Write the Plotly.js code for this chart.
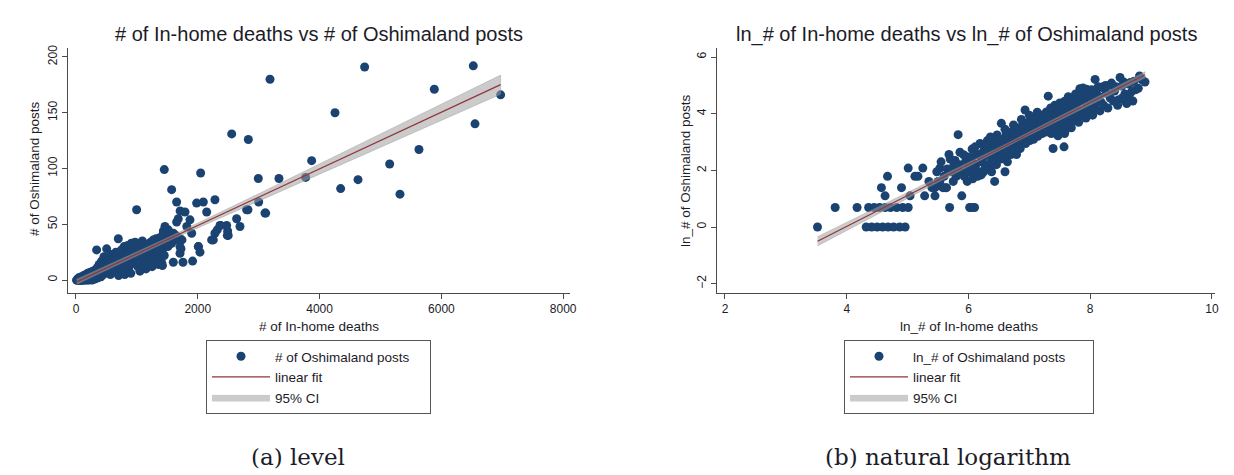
<!DOCTYPE html>
<html>
<head>
<meta charset="utf-8">
<script src="https://cdn.plot.ly/plotly-3.0.1.min.js"></script>
<style>
  html, body { margin: 0; padding: 0; background: #ffffff; }
  #chart { width: 1234px; height: 475px; }
</style>
</head>
<body>
<div id="chart"></div>
<script>
// Panel (a): counts of in-home deaths and Oshimaland posts per region
const levelDeaths = [
  20, 35, 50, 60, 75, 90, 100, 110, 125, 140, 150, 165, 180, 190, 205, 220, 235, 250, 260, 275, 290, 300,
  315, 330, 339, 350, 365, 380, 395, 410, 420, 435, 450, 460, 475, 490, 504, 510, 525, 540, 555, 565, 580, 595, 610, 625, 640, 655, 670, 685, 695, 700,
  715, 730, 745, 760, 775, 790, 805, 820, 835, 850, 865, 880, 895, 910, 925, 940, 955, 970, 985, 996, 1000, 1015, 1030, 1045, 1060, 1075, 1090, 1105, 1120, 1135, 1150, 1165, 1180, 1195,
  1210, 1225, 1240, 1255, 1270, 1285, 1300, 1315, 1330, 1345, 1360, 1375, 1390, 1405, 1420, 1435, 1450, 1461, 1477, 1490,
  700, 800, 900, 1050, 1150, 1250, 1350, 1420,
  45, 80, 130, 170, 210, 240, 270, 310, 340, 370, 400, 430, 460, 490, 520, 550, 580, 610, 640, 670, 700, 730, 760, 790, 820, 850,
  880, 910, 940, 970, 1000, 1030, 1060, 1090, 1120, 1150, 1180, 1210, 1240, 1270, 1300, 1330, 1360, 1390, 1420, 1450, 1480, 1510, 1540, 1570, 1600, 1630,
  10, 15, 25, 30, 40, 55, 65, 70, 85, 95, 105, 115, 120, 135, 145, 160, 175, 185, 200, 215, 230, 245, 265, 285, 320, 360, 390,
  60, 120, 180, 240, 300, 360, 420, 480, 540, 600, 660, 720, 780, 840, 900, 960, 1020, 1080, 1140, 1200, 1260, 1320, 1380, 1440,
  90, 150, 210, 270, 330, 390, 450, 510, 570, 630, 690, 750, 810, 870, 930, 990, 1050, 1110, 1170, 1230,
  1571, 1653, 1757, 1598, 1915, 2255, 2011, 2036, 1724, 1740, 1900, 1680, 1790, 1872, 1710, 1653, 1516, 1434, 1708, 1708, 1708, 2009, 1640, 1560, 1820,
  2047, 1981, 2091, 2146, 2282, 2228, 2282, 2320, 2365, 2474, 2500, 2490, 2376, 2485, 2638, 2693, 2802, 2824, 2994, 3000, 3103, 3115, 3186, 2557, 2830, 3333,
  3772, 3870, 4253, 4346, 4631, 4740, 5151, 5320, 5632, 5884, 6524, 6552, 6973
];
const levelPosts = [
  0, 1, 0, 2, 1, 3, 0, 2, 4, 1, 3, 5, 2, 6, 3, 1, 7, 4, 2, 8, 5, 3,
  9, 4, 27, 11, 6, 14, 8, 3, 17, 10, 5, 21, 13, 7, 28, 15, 9, 19, 12, 5, 23, 16, 10, 20, 7, 25, 14, 18, 37, 11,
  22, 15, 27, 9, 19, 30, 13, 24, 17, 31, 11, 26, 20, 33, 15, 28, 22, 34, 18, 63, 30, 12, 25, 33, 20, 29, 35, 16, 27, 23, 32, 19, 30, 25,
  14, 34, 27, 21, 36, 30, 18, 37, 25, 33, 22, 38, 30, 16, 27, 44, 99, 48, 45, 35,
  4, 5, 6, 8, 10, 12, 14, 13,
  2, 0, 1, 3, 6, 2, 5, 6, 8, 10, 5, 12, 8, 14, 11, 16, 9, 17, 13, 20, 16, 12, 22, 18, 14, 24,
  19, 15, 25, 21, 17, 28, 24, 19, 31, 24, 20, 29, 33, 25, 30, 20, 35, 26, 32, 22, 38, 30, 40, 33, 42, 36,
  0, 0, 0, 1, 0, 0, 1, 0, 0, 1, 0, 1, 0, 0, 1, 0, 2, 0, 1, 0, 2, 1, 0, 2, 1, 2, 3,
  0, 1, 2, 3, 4, 6, 7, 9, 10, 12, 13, 15, 16, 18, 19, 21, 22, 24, 25, 27, 28, 30, 31, 33,
  1, 1, 2, 4, 5, 7, 8, 10, 11, 12, 14, 15, 17, 18, 20, 21, 23, 24, 26, 27,
  81, 70, 16, 16, 17, 36, 30, 25, 28, 36, 42, 55, 61, 54, 62, 52, 45, 42, 37, 30, 24, 30, 40, 33, 48,
  96, 69, 70, 61, 72, 36, 42, 45, 49, 49, 40, 44, 49, 40, 55, 48, 63, 63, 91, 70, 60, 60, 180, 131, 126, 91,
  92, 107, 150, 82, 90, 191, 104, 77, 117, 171, 192, 140, 166
];

// Panel (b): natural logarithms of the same counts (regions with at least one post)
const lnDeaths = [
  3.52, 3.81, 4.17,
  4.32, 4.41, 4.50, 4.59, 4.68, 4.77, 4.87, 4.96,
  4.36, 4.45, 4.54, 4.63, 4.72, 4.82, 4.92, 5.01,
  4.57, 4.63, 4.67, 4.90, 5.01, 5.25, 5.12, 5.17, 5.04, 5.28, 5.45, 5.53, 5.68, 5.69, 5.78, 5.83, 5.64, 5.53, 6.02, 6.10, 6.05, 5.89, 5.58, 5.45,
  5.40, 5.50, 5.60, 5.62, 5.72, 5.75, 5.80, 5.85, 5.90, 5.95, 5.98, 6.00, 6.05, 6.08, 6.12, 6.15, 6.18, 6.20, 6.21, 6.25, 6.28, 6.30, 6.33, 6.35, 6.38, 6.40, 6.42, 6.43, 6.45, 6.46,
  6.50, 6.52, 6.54, 6.55, 6.58, 6.60, 6.62, 6.64, 6.65, 6.68, 6.70, 6.72, 6.75, 6.78, 6.79, 6.80, 6.83, 6.85, 6.88, 6.90, 6.92, 6.93, 6.95, 6.98,
  7.00, 7.02, 7.05, 7.08, 7.10, 7.12, 7.15, 7.18, 7.20, 7.22, 7.25, 7.28, 7.30, 7.31, 7.33, 7.35, 7.38, 7.39, 7.40, 7.42, 7.45, 7.47, 7.48, 7.50,
  7.52, 7.55, 7.57, 7.58, 7.60, 7.61, 7.63, 7.64, 7.66, 7.68, 7.70, 7.72, 7.74, 7.76, 7.78, 7.80, 7.83, 7.83, 7.86, 7.88, 7.90, 7.94, 7.96,
  8.00, 8.05, 8.08, 8.10, 8.15, 8.20, 8.27, 8.30, 8.35, 8.40, 8.46, 8.49, 8.52, 8.55, 8.60, 8.63, 8.68, 8.72, 8.79, 8.81, 8.85, 8.90,
  5.93, 6.00, 6.10, 6.15, 6.25, 6.30, 6.38, 6.05, 6.48, 6.56, 6.70, 6.86, 7.04, 7.16, 7.26, 7.36, 7.44, 7.53, 7.65, 7.92, 8.12, 8.24,
  6.03, 6.07, 6.13, 6.17, 6.23, 6.27, 6.32, 6.36, 6.41, 6.44, 6.49, 6.53, 6.57, 6.61, 6.66, 6.69, 6.73, 6.77, 6.82, 6.84,
  6.89, 6.94, 6.97, 7.01, 7.04, 7.07, 7.11, 7.14, 7.17, 7.21, 7.24, 7.27, 7.32, 7.34, 7.37, 7.41, 7.44, 7.46, 7.51, 7.54,
  7.59, 7.62, 7.67, 7.71, 7.75, 7.79, 7.82, 7.87, 7.91, 7.95, 8.02, 8.07, 8.13, 8.18, 8.25, 8.33, 8.42, 8.57, 8.66, 8.75,
  5.65, 5.78, 5.92, 6.06, 6.19, 6.31, 6.47, 6.60, 6.74, 6.87, 7.00, 7.13,
  7.52, 7.63, 7.73, 7.85, 7.97, 8.08, 8.22, 8.38, 8.52, 8.64, 8.70,
  5.35, 5.48, 5.55, 5.70, 5.76, 5.86, 5.97, 6.11, 6.24, 6.36,
  7.36, 7.49, 7.58, 7.69, 7.81, 7.93, 8.04, 8.16, 8.29, 8.45, 8.58
];
const lnPosts = [
  0.00, 0.69, 0.69,
  0.00, 0.00, 0.00, 0.00, 0.00, 0.00, 0.00, 0.00,
  0.69, 0.69, 0.69, 0.69, 0.69, 0.69, 0.69, 0.69,
  1.39, 1.10, 1.79, 1.39, 2.08, 2.08, 1.79, 1.79, 1.10, 1.10, 1.10, 2.08, 2.56, 0.69, 2.08, 3.26, 1.39, 1.61, 0.69, 0.69, 0.69, 1.10, 1.39, 1.39,
  1.39, 1.61, 1.79, 1.39, 1.95, 1.61, 1.79, 2.20, 1.95, 2.30, 1.61, 2.08, 2.40, 1.79, 2.20, 2.56, 1.95, 2.30, 1.84, 2.48, 2.08, 2.64, 2.20, 2.77, 2.40, 2.89, 2.56, 1.61, 3.00, 2.20,
  2.71, 3.09, 3.66, 2.64, 2.94, 1.95, 3.30, 2.30, 2.83, 3.18, 2.56, 3.37, 2.94, 3.43, 2.56, 3.14, 3.50, 2.77, 3.30, 3.61, 3.04, 4.13, 3.40, 3.69,
  3.18, 3.50, 3.78, 3.26, 3.64, 3.89, 3.40, 3.74, 3.95, 3.50, 3.85, 4.06, 3.58, 4.62, 3.93, 4.20, 3.71, 2.77, 4.01, 4.30, 3.85, 3.22, 4.11, 4.38,
  3.91, 4.13, 2.83, 4.44, 3.99, 3.47, 4.25, 4.60, 4.06, 4.51, 4.19, 3.78, 4.36, 4.70, 4.28, 4.55, 4.06, 4.88, 4.45, 4.91, 4.62, 4.86, 4.50,
  4.75, 4.48, 5.21, 4.80, 4.60, 4.94, 4.72, 5.00, 5.08, 4.80, 4.48, 5.28, 4.98, 5.12, 4.36, 5.05, 4.78, 5.15, 4.90, 5.33, 5.20, 5.12,
  1.79, 1.95, 2.08, 1.79, 1.95, 2.20, 1.95, 2.20, 2.64, 3.00, 2.94, 3.22, 3.40, 3.60, 3.69, 3.89, 3.95, 4.03, 4.20, 4.40, 4.64, 4.87,
  2.45, 1.70, 2.55, 1.92, 2.62, 2.05, 2.80, 2.12, 2.70, 2.35, 2.95, 2.40, 3.10, 2.50, 3.05, 2.65, 3.15, 2.75, 3.30, 2.85,
  3.45, 2.95, 3.55, 3.05, 3.60, 3.10, 3.75, 3.20, 3.85, 3.30, 3.90, 3.35, 4.05, 3.45, 4.10, 3.55, 4.20, 3.60, 4.30, 3.70,
  4.35, 3.80, 4.40, 3.90, 4.50, 4.00, 4.60, 4.10, 4.70, 4.20, 4.85, 4.30, 4.95, 4.40, 5.00, 4.55, 4.95, 4.70, 5.10, 4.85,
  2.05, 2.35, 2.55, 2.75, 2.95, 3.05, 3.25, 3.45, 3.60, 3.80, 3.95, 4.05,
  3.55, 3.65, 3.75, 3.95, 4.05, 4.15, 4.30, 4.45, 4.55, 4.65, 4.45,
  1.61, 1.95, 2.30, 2.40, 2.20, 2.64, 2.48, 2.83, 2.89, 3.18,
  3.30, 3.40, 3.30, 3.50, 3.70, 3.85, 3.95, 4.10, 4.20, 4.30, 4.45
];

// Axis tick values
const levelXTicks = [0, 2000, 4000, 6000, 8000];
const levelYTicks = [0, 50, 100, 150, 200];
const lnXTicks = [2, 4, 6, 8, 10];
const lnYTicks = [-2, 0, 2, 4, 6];

// Ordinary least squares line with a 95% confidence band for the mean prediction
function linearFitCI(xs, ys, steps) {
  const n = xs.length;
  const mx = xs.reduce((s, v) => s + v, 0) / n;
  const my = ys.reduce((s, v) => s + v, 0) / n;
  let sxx = 0, sxy = 0;
  for (let i = 0; i < n; i++) {
    sxx += (xs[i] - mx) * (xs[i] - mx);
    sxy += (xs[i] - mx) * (ys[i] - my);
  }
  const b = sxy / sxx;
  const a = my - b * mx;
  let sse = 0;
  for (let i = 0; i < n; i++) {
    const r = ys[i] - (a + b * xs[i]);
    sse += r * r;
  }
  const s = Math.sqrt(sse / (n - 2));
  const t = 1.97;
  const lo = Math.min(...xs), hi = Math.max(...xs);
  const gx = [], fit = [], upper = [], lower = [];
  for (let k = 0; k <= steps; k++) {
    const x = lo + (hi - lo) * k / steps;
    const yh = a + b * x;
    const se = s * Math.sqrt(1 / n + (x - mx) * (x - mx) / sxx);
    gx.push(x); fit.push(yh); upper.push(yh + t * se); lower.push(yh - t * se);
  }
  return { gx, fit, upper, lower };
}

const NAVY = '#1b4372';
const MAROON = '#90353b';
const CI_FILL = 'rgba(160,160,160,0.55)';
const FONT = 'Liberation Sans, Arial, sans-serif';
const TEXT = '#1c1c28';
const PAD = '\u00a0';

function panelTraces(xs, ys, pointName, xa, ya, legendId) {
  const f = linearFitCI(xs, ys, 60);
  return [
    {
      type: 'scatter', mode: 'markers', x: xs, y: ys, xaxis: xa, yaxis: ya,
      name: pointName, legend: legendId, legendrank: 1,
      marker: { color: NAVY, size: 9, line: { width: 0 } }, hoverinfo: 'x+y'
    },
    {
      type: 'scatter', mode: 'lines', xaxis: xa, yaxis: ya,
      x: f.gx.concat(f.gx.slice().reverse()),
      y: f.upper.concat(f.lower.slice().reverse()),
      fill: 'toself', fillcolor: CI_FILL, line: { width: 0.5, color: 'rgba(140,140,140,0.7)' },
      name: '95% CI', legend: legendId, legendrank: 3, hoverinfo: 'skip'
    },
    {
      type: 'scatter', mode: 'lines', x: f.gx, y: f.fit, xaxis: xa, yaxis: ya,
      name: 'linear fit', legend: legendId, legendrank: 2,
      line: { color: MAROON, width: 1.2 }, hoverinfo: 'skip'
    }
  ];
}

const traces = []
  .concat(panelTraces(levelDeaths, levelPosts, '# of Oshimaland posts' + PAD.repeat(4), 'x', 'y', 'legend'))
  .concat(panelTraces(lnDeaths, lnPosts, 'ln_# of Oshimaland posts' + PAD.repeat(6), 'x2', 'y2', 'legend2'));

function axisStyle(extra) {
  return Object.assign({
    showgrid: false, zeroline: false, showline: true, linecolor: '#4a4a4a', linewidth: 1,
    ticks: 'outside', ticklen: 5, tickwidth: 1, tickcolor: '#4a4a4a',
    tickfont: { family: FONT, size: 12, color: TEXT }, tickmode: 'array', fixedrange: true
  }, extra);
}

const H = 475, W = 1234;
const yDom = [(H - 293) / H, (H - 48) / H];

const legendStyle = {
  font: { family: FONT, size: 13.5, color: TEXT },
  bgcolor: '#ffffff', bordercolor: '#555555', borderwidth: 1,
  itemwidth: 58, xanchor: 'left', yanchor: 'top', tracegroupgap: 0,
  traceorder: 'normal', itemclick: false, itemdoubleclick: false
};

function label(text, x, y, size, angle, family) {
  return {
    text: text, x: x, y: y, xref: 'paper', yref: 'paper', showarrow: false,
    xanchor: 'center', yanchor: 'middle', textangle: angle || 0,
    font: { family: family || FONT, size: size, color: TEXT }
  };
}

const layout = {
  width: W, height: H,
  margin: { l: 0, r: 0, t: 0, b: 0 },
  paper_bgcolor: '#ffffff', plot_bgcolor: '#ffffff',
  showlegend: true,
  xaxis: axisStyle({ domain: [68 / W, 570 / W], range: [-131, 8112], tickvals: levelXTicks, anchor: 'y' }),
  yaxis: axisStyle({ domain: yDom, range: [-11.6, 208], tickvals: levelYTicks, tickangle: -90, anchor: 'x' }),
  xaxis2: axisStyle({ domain: [717 / W, 1215 / W], range: [1.869, 10.05], tickvals: lnXTicks, anchor: 'y2' }),
  yaxis2: axisStyle({ domain: yDom, range: [-2.33, 6.32], tickvals: lnYTicks, tickangle: -90, anchor: 'x2' }),
  legend: Object.assign({}, legendStyle, { x: 206 / W, y: (H - 340) / H }),
  legend2: Object.assign({}, legendStyle, { x: 844 / W, y: (H - 340) / H }),
  annotations: [
    label('# of In-home deaths vs # of Oshimaland posts', 319 / W, 1 - 34 / H, 20),
    label('ln_# of In-home deaths vs ln_# of Oshimaland posts', 966 / W, 1 - 34 / H, 20),
    label('# of In-home deaths', 319 / W, 1 - 326 / H, 13.5),
    label('ln_# of In-home deaths', 969 / W, 1 - 326 / H, 13.5),
    label('# of Oshimaland posts', 34 / W, 1 - 169 / H, 13.5, -90),
    label('ln_# of Oshimaland posts', 685 / W, 1 - 171 / H, 13.5, -90),
    label('(a) level', 298 / W, 1 - 457 / H, 23, 0, 'DejaVu Serif, serif'),
    label('(b) natural logarithm', 948 / W, 1 - 457 / H, 23, 0, 'DejaVu Serif, serif')
  ]
};

Plotly.newPlot('chart', traces, layout, { staticPlot: true, displayModeBar: false });
</script>
</body>
</html>
